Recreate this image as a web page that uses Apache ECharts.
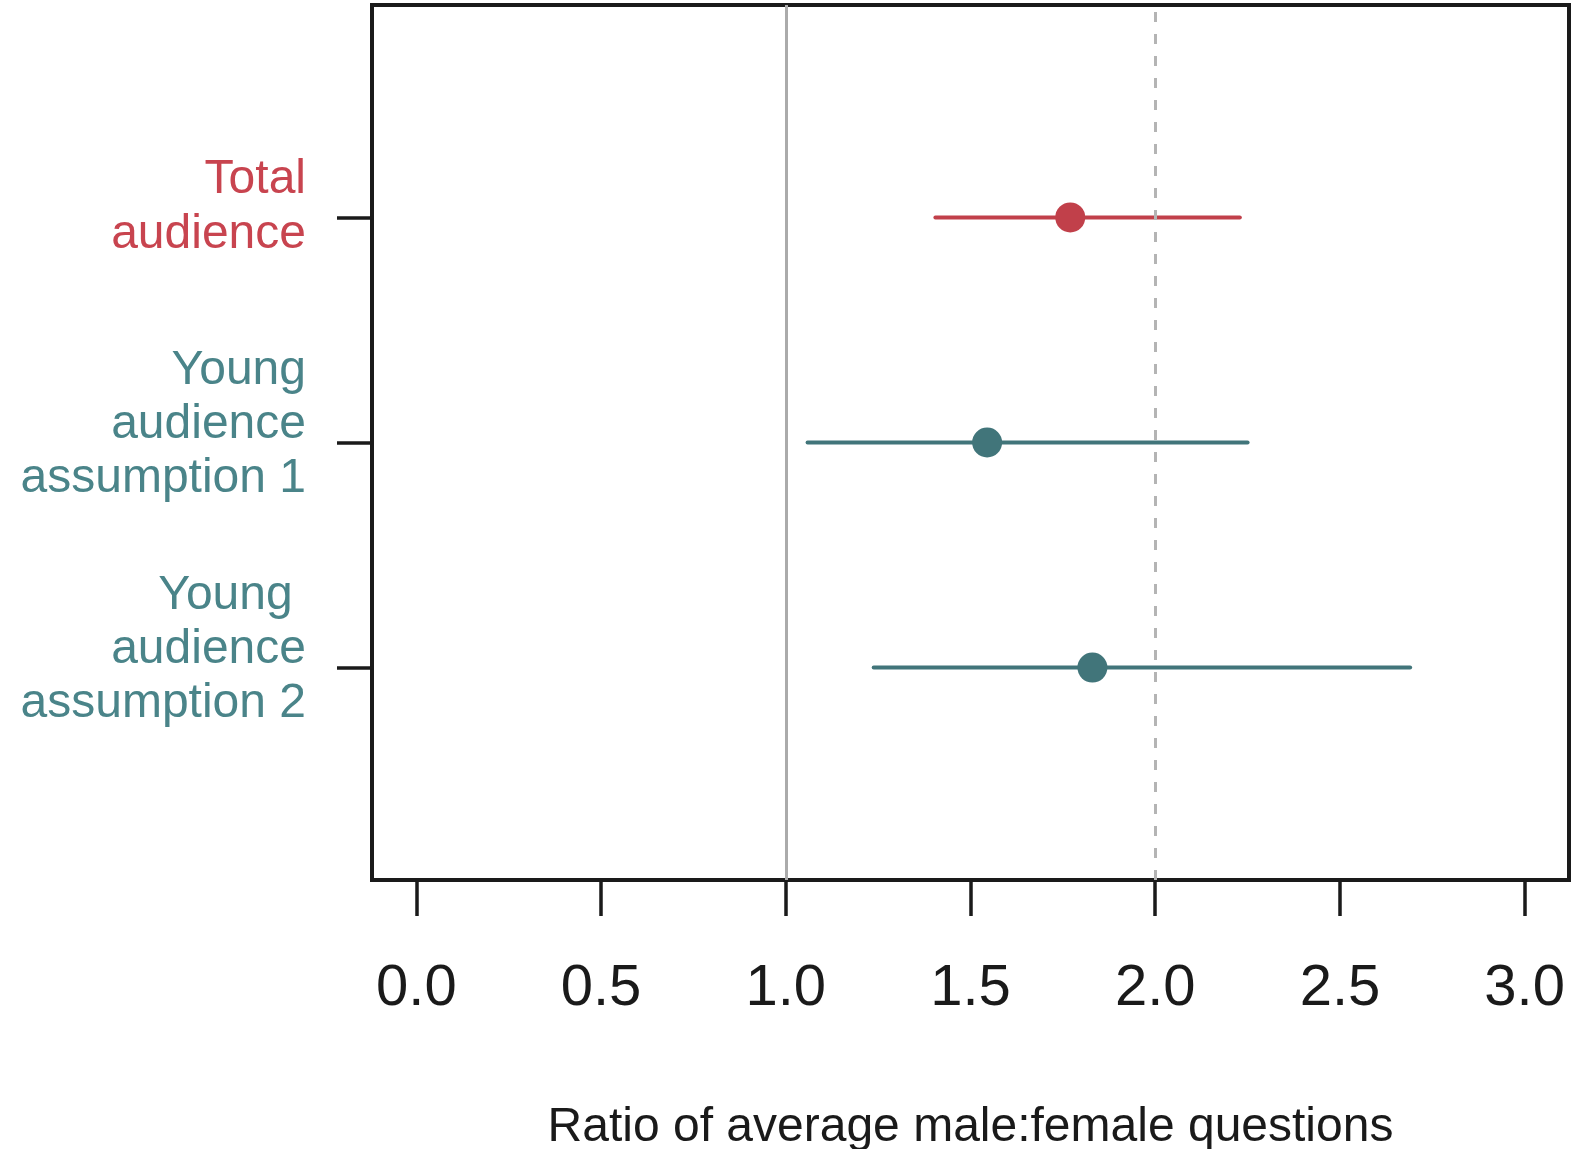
<!DOCTYPE html>
<html>
<head>
<meta charset="utf-8">
<script src="https://cdn.jsdelivr.net/npm/echarts@6/dist/echarts.min.js"></script>
<style>
html,body{margin:0;padding:0;background:#fff;}
#chart{width:1581px;height:1149px;}
</style>
</head>
<body>
<div id="chart"></div>
<script>
// ---- data ----
const groups = ['Total audience', 'Young audience assumption 1', 'Young audience assumption 2'];
const groupPos = [3, 2, 1];
const estimates = [1.77, 1.545, 1.83];
const lower = [1.405, 1.059, 1.238];
const upper = [2.229, 2.25, 2.69];
const groupColor = ['#c1404a', '#41757a', '#41757a'];
const xTicks = [0, 0.5, 1, 1.5, 2, 2.5, 3];
const refSolid = 1.0;
const refDashed = 2.0;
const xTitle = 'Ratio of average male:female questions';

const labelColors = {r: '#c8444f', t: '#4a8489'};
const labelText = {
  3: '{sp| }\n{r|Total}\n{r|audience}',
  2: '{t|Young}\n{t|audience}\n{t|assumption 1}',
  1: '{t|Young }\n{t|audience}\n{t|assumption 2}'
};

const chart = echarts.init(document.getElementById('chart'), null, {renderer: 'canvas'});
const FONT = '"Liberation Sans", Arial, sans-serif';

const barData = groups.map((g, i) => [lower[i], upper[i], groupPos[i], i]);
const pointData = groups.map((g, i) => ({value: [estimates[i], groupPos[i]], itemStyle: {color: groupColor[i], opacity: 1}}));

chart.setOption({
  animation: false,
  backgroundColor: '#ffffff',
  grid: {
    left: 372, right: 12, top: 5, bottom: 269,
    containLabel: false, outerBoundsMode: 'none',
    show: true, borderColor: '#1a1a1a', borderWidth: 4, backgroundColor: 'transparent'
  },
  xAxis: {
    type: 'value', min: -0.12, max: 3.12,
    axisLine: {show: false, onZero: false},
    splitLine: {show: false},
    axisTick: {show: true, customValues: xTicks, length: 36, inside: false, lineStyle: {color: '#1a1a1a', width: 3.5}},
    axisLabel: {
      customValues: xTicks, margin: 80,
      fontSize: 58, fontFamily: FONT, color: '#1a1a1a',
      formatter: v => v.toFixed(1)
    },
    name: xTitle, nameLocation: 'middle', nameGap: 224,
    nameTextStyle: {fontSize: 48, fontFamily: FONT, color: '#1a1a1a'}
  },
  yAxis: {
    type: 'value', min: 0.056, max: 3.944,
    axisLine: {show: false, onZero: false},
    splitLine: {show: false},
    axisTick: {show: true, customValues: groupPos, length: 35, inside: false, lineStyle: {color: '#1a1a1a', width: 3.5}},
    axisLabel: {
      customValues: groupPos, margin: 66,
      align: 'right',
      padding: [0, 0, 36, 0],
      fontSize: 48, fontFamily: FONT,
      formatter: v => labelText[Math.round(v)] || '',
      rich: {
        r: {color: labelColors.r, fontSize: 48, fontFamily: FONT, lineHeight: 55, align: 'right'},
        t: {color: labelColors.t, fontSize: 48, fontFamily: FONT, lineHeight: 54, align: 'right'},
        sp: {fontSize: 10, lineHeight: 16}
      }
    }
  },
  series: [
    {
      type: 'line', data: [], silent: true, symbol: 'none',
      markLine: {
        silent: true, symbol: 'none', label: {show: false},
        data: [
          {xAxis: refSolid, lineStyle: {color: '#ababab', width: 3, type: 'solid'}},
          {xAxis: refDashed, lineStyle: {color: '#b4b4b4', width: 3, type: [10, 12]}}
        ]
      }
    },
    {
      type: 'custom', silent: true,
      data: barData,
      encode: {x: [0, 1], y: 2},
      renderItem: function (params, api) {
        const y = api.value(2);
        const p1 = api.coord([api.value(0), y]);
        const p2 = api.coord([api.value(1), y]);
        return {
          type: 'line',
          shape: {x1: p1[0], y1: p1[1], x2: p2[0], y2: p2[1]},
          style: {stroke: groupColor[api.value(3)], lineWidth: 4, lineCap: 'round'}
        };
      },
      z: 3
    },
    {
      type: 'scatter', symbol: 'circle', symbolSize: 30,
      data: pointData, z: 4, silent: true
    }
  ]
});
</script>
</body>
</html>
